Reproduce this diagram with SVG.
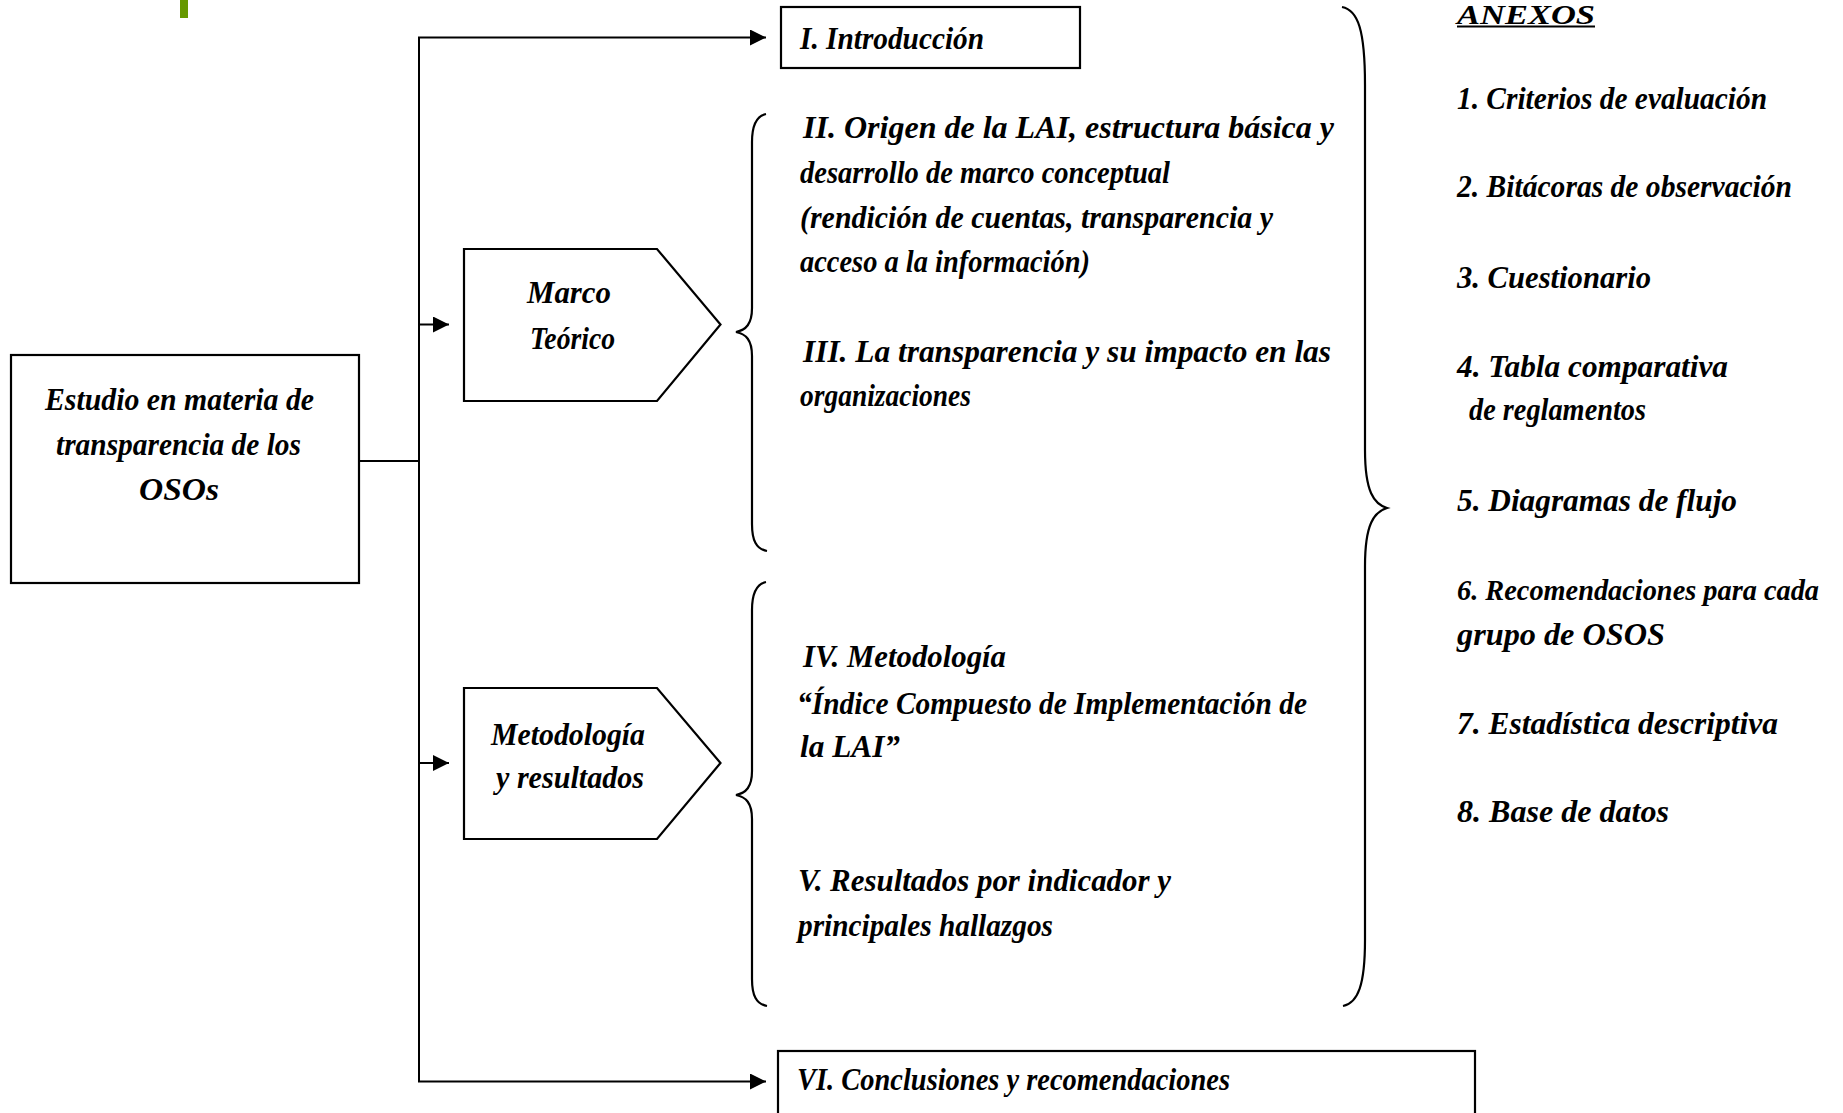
<svg xmlns="http://www.w3.org/2000/svg" width="1843" height="1113" viewBox="0 0 1843 1113">
<defs>
<style>
.t{font-family:"Liberation Serif","DejaVu Serif",serif;font-style:italic;font-weight:bold;font-size:32px;fill:#000}
.h{font-size:27px}
.s{font-size:30px}
.box{fill:#fff;stroke:#000;stroke-width:2.2}
.ln{fill:none;stroke:#000;stroke-width:2}
.br{fill:none;stroke:#000;stroke-width:2.2}
</style>
<marker id="ah" viewBox="0 0 16 16" refX="16" refY="8" markerWidth="16" markerHeight="16" markerUnits="userSpaceOnUse" orient="auto">
<path d="M0,0 L16,8 L0,16 Z" fill="#000"/>
</marker>
</defs>
<rect width="1843" height="1113" fill="#fff"/>
<rect x="180" y="0" width="8" height="18" fill="#669900"/>

<g id="connectors">
<path class="ln" d="M359,461 H419"/>
<path class="ln" d="M419,37.5 V1081.5"/>
<path class="ln" d="M418,37.5 H766" marker-end="url(#ah)"/>
<path class="ln" d="M419,324.5 H449" marker-end="url(#ah)"/>
<path class="ln" d="M419,763 H449" marker-end="url(#ah)"/>
<path class="ln" d="M418,1081.5 H766" marker-end="url(#ah)"/>
</g>

<g id="main">
<rect class="box" x="11" y="355" width="348" height="228"/>
<text class="t" x="45" y="410" textLength="269" lengthAdjust="spacingAndGlyphs">Estudio en materia de</text>
<text class="t" x="56" y="455" textLength="245" lengthAdjust="spacingAndGlyphs">transparencia de los</text>
<text class="t" x="139" y="500" textLength="80" lengthAdjust="spacingAndGlyphs">OSOs</text>
</g>

<g id="intro">
<rect class="box" x="781" y="7" width="299" height="61"/>
<text class="t" x="800" y="49" textLength="184" lengthAdjust="spacingAndGlyphs">I. Introducción</text>
</g>

<g id="marco">
<path class="box" d="M464,249 H657 L720.5,324.5 L657,401 H464 Z"/>
<text class="t" x="527" y="303" textLength="84" lengthAdjust="spacingAndGlyphs">Marco</text>
<text class="t" x="530" y="349" textLength="85" lengthAdjust="spacingAndGlyphs">Teórico</text>
</g>

<g id="metodologia">
<path class="box" d="M464,688 H657 L720.5,763 L657,839 H464 Z"/>
<text class="t" x="491" y="745" textLength="154" lengthAdjust="spacingAndGlyphs">Metodología</text>
<text class="t" x="496" y="788" textLength="148" lengthAdjust="spacingAndGlyphs">y resultados</text>
</g>

<g id="brace-marco">
<path class="br" d="M766,114 C756,116 752,126 752,142 L752,308 C752,324 746,330 736,332 C746,334 752,340 752,356 L752,524 C752,540 756,549 767,551"/>
</g>

<g id="capitulos-marco">
<text class="t" x="803" y="138" textLength="531" lengthAdjust="spacingAndGlyphs">II. Origen de la LAI, estructura básica y</text>
<text class="t" x="800" y="183" textLength="370" lengthAdjust="spacingAndGlyphs">desarrollo de marco conceptual</text>
<text class="t" x="800" y="228" textLength="473" lengthAdjust="spacingAndGlyphs">(rendición de cuentas, transparencia  y</text>
<text class="t" x="800" y="272" textLength="290" lengthAdjust="spacingAndGlyphs">acceso a la información)</text>
<text class="t" x="803" y="362" textLength="528" lengthAdjust="spacingAndGlyphs">III. La transparencia y su impacto en las</text>
<text class="t" x="800" y="406" textLength="171" lengthAdjust="spacingAndGlyphs">organizaciones</text>
</g>

<g id="brace-metodologia">
<path class="br" d="M766,582 C756,584 752,594 752,610 L752,771 C752,787 746,793 736,795 C746,797 752,803 752,819 L752,979 C752,995 756,1004 767,1006"/>
</g>

<g id="capitulos-metodologia">
<text class="t" x="803" y="667" textLength="203" lengthAdjust="spacingAndGlyphs">IV. Metodología</text>
<text class="t" x="797" y="714" textLength="510" lengthAdjust="spacingAndGlyphs">“Índice Compuesto de Implementación de</text>
<text class="t" x="800" y="757" textLength="100" lengthAdjust="spacingAndGlyphs">la LAI”</text>
<text class="t" x="798" y="891" textLength="373" lengthAdjust="spacingAndGlyphs">V. Resultados por indicador y</text>
<text class="t" x="798" y="936" textLength="255" lengthAdjust="spacingAndGlyphs">principales hallazgos</text>
</g>

<g id="conclusiones">
<rect class="box" x="778" y="1051" width="697" height="70"/>
<text class="t" x="797" y="1090" textLength="433" lengthAdjust="spacingAndGlyphs">VI. Conclusiones y recomendaciones</text>
</g>

<g id="brace-anexos">
<path class="br" d="M1342,7 C1358,10 1365,30 1365,85 L1365,450 C1365,492 1374,504 1387,508 C1374,512 1365,524 1365,566 L1365,940 C1365,985 1358,1003 1343,1006"/>
</g>

<g id="anexos">
<text class="t h" x="1457" y="24" textLength="138" lengthAdjust="spacingAndGlyphs">ANEXOS</text>
<line x1="1457" y1="26.5" x2="1595" y2="26.5" stroke="#000" stroke-width="2"/>
<text class="t" x="1457" y="109" textLength="310" lengthAdjust="spacingAndGlyphs">1. Criterios de evaluación</text>
<text class="t" x="1457" y="197" textLength="335" lengthAdjust="spacingAndGlyphs">2. Bitácoras de observación</text>
<text class="t" x="1457" y="288" textLength="194" lengthAdjust="spacingAndGlyphs">3. Cuestionario</text>
<text class="t" x="1457" y="377" textLength="271" lengthAdjust="spacingAndGlyphs">4. Tabla comparativa</text>
<text class="t" x="1469" y="420" textLength="177" lengthAdjust="spacingAndGlyphs">de reglamentos</text>
<text class="t" x="1457" y="511" textLength="280" lengthAdjust="spacingAndGlyphs">5. Diagramas de flujo</text>
<text class="t s" x="1457" y="600" textLength="362" lengthAdjust="spacingAndGlyphs">6. Recomendaciones para cada</text>
<text class="t" x="1457" y="645" textLength="208" lengthAdjust="spacingAndGlyphs">grupo de OSOS</text>
<text class="t" x="1457" y="734" textLength="321" lengthAdjust="spacingAndGlyphs">7. Estadística descriptiva</text>
<text class="t" x="1457" y="822" textLength="212" lengthAdjust="spacingAndGlyphs">8. Base de datos</text>
</g>
</svg>
